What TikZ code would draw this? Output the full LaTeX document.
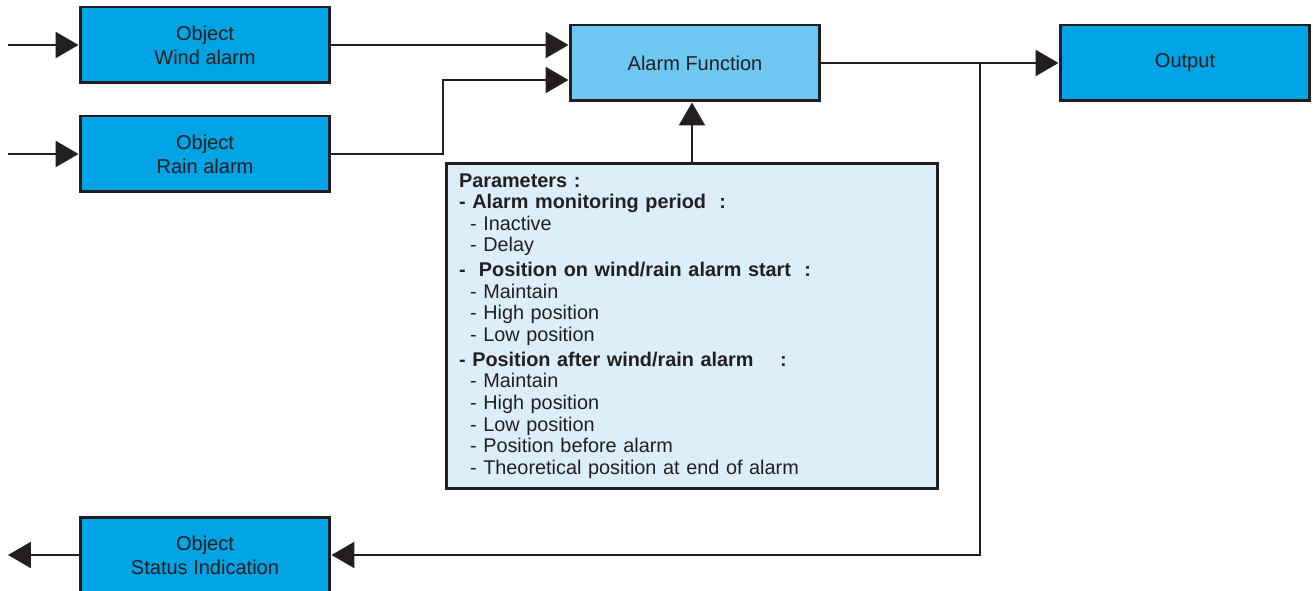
\documentclass[tikz,border=0pt]{standalone}
\usepackage{fontspec}
\setmainfont{Liberation Sans}
\usetikzlibrary{arrows.meta}

\definecolor{objblue}{HTML}{00A3E4}
\definecolor{funcblue}{HTML}{6EC7F1}
\definecolor{parblue}{HTML}{DCEEF9}
\definecolor{inkgray}{HTML}{231F20}

\begin{document}
\begin{tikzpicture}[x=0.02cm,y=-0.02cm,
	block/.style={draw=inkgray,line width=1.7pt,minimum width=5cm,minimum height=1.52cm,
		align=center,inner sep=0pt,text=inkgray,font=\fontsize{11.4}{13.6}\selectfont},
	objblock/.style={block,fill=objblue},
	link/.style={draw=inkgray,line width=1.4pt},
	tip/.style={link,-{Triangle[length=0.46cm,width=0.52cm]}}]
	\useasboundingbox (0,0) rectangle (1313,591);
	
	% Define the blocks
	\node[objblock] (wind) at (205,45) {Object\\Wind alarm};
	\node[objblock] (rain) at (205,154) {Object\\Rain alarm};
	\node[block,fill=funcblue] (func) at (695,63) {Alarm Function};
	\node[objblock] (output) at (1185,63) {Output};
	\node[objblock] (status) at (205,555) {Object\\Status Indication};
	\node[draw=inkgray,line width=1.7pt,fill=parblue,minimum width=9.84cm,minimum height=6.52cm,
		text width=9.32cm,inner xsep=0.26cm,inner ysep=0pt,align=left,text=inkgray,
		font=\fontsize{11.3}{12.3}\selectfont] (params) at (692,326) {%
		\textbf{Parameters :}\\
		\textbf{- Alarm monitoring period\ \ :}\\
		\hspace*{0.22cm}- Inactive\\
		\hspace*{0.22cm}- Delay\\[1.8pt]
		\textbf{-\ \ Position on wind/rain alarm start\ \ :}\\
		\hspace*{0.22cm}- Maintain\\
		\hspace*{0.22cm}- High position\\
		\hspace*{0.22cm}- Low position\\[1.8pt]
		\textbf{- Position after wind/rain alarm\ \ \ \ :}\\
		\hspace*{0.22cm}- Maintain\\
		\hspace*{0.22cm}- High position\\
		\hspace*{0.22cm}- Low position\\
		\hspace*{0.22cm}- Position before alarm\\
		\hspace*{0.22cm}- Theoretical position at end of alarm};
	
	% Free ends and bends
	\coordinate (windin) at (8,45);
	\coordinate (rainin) at (8,154);
	\coordinate (rainbend) at (443,80);
	\coordinate (branch) at (980,63);
	\coordinate (statusout) at (8,555);
	
	% Draw the connectors
	\draw[tip] (windin) -- (wind);
	\draw[tip] (rainin) -- (rain);
	\draw[tip] (wind.east) -- (wind.east -| func.west);
	\draw[tip] (rain.east) -| (rainbend) -- (rainbend -| func.west);
	\draw[tip] (params.north) -- (params.north |- func.south);
	\draw[tip] (func) -- (output);
	\draw[tip] (branch) |- (status);
	\draw[tip] (status) -- (statusout);
\end{tikzpicture}
\end{document}
